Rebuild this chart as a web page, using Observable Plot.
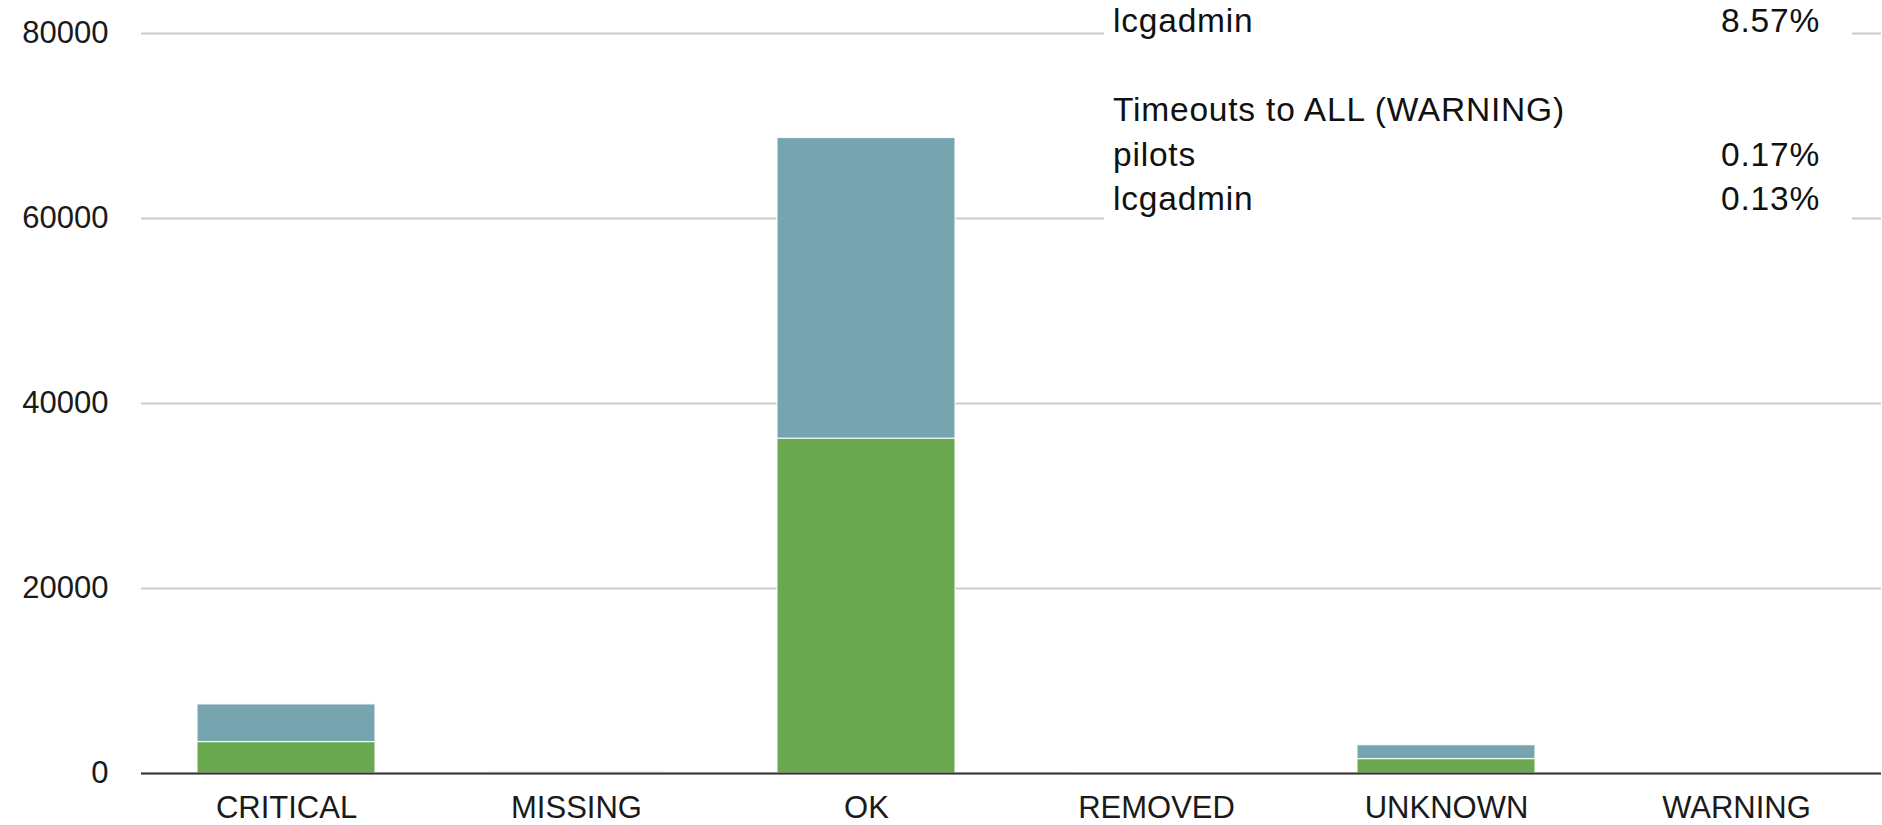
<!DOCTYPE html>
<html>
<head>
<meta charset="utf-8">
<script src="https://cdn.jsdelivr.net/npm/d3@7"></script>
<script src="https://cdn.jsdelivr.net/npm/@observablehq/plot@0.6"></script>
<style>
  html, body { margin: 0; padding: 0; background: #fff; }
  #wrap { position: relative; width: 1882px; height: 825px; overflow: hidden; }
  #tip {
    position: absolute; left: 1104px; top: -1px; width: 748px; height: 236px;
    background: #fff; box-sizing: border-box; padding: 0 32px 0 9px;
    font-family: "Liberation Sans", Arial, Helvetica, sans-serif; font-size: 33.5px;
    letter-spacing: 0.8px; color: #111;
  }
  #tip .row { display: flex; justify-content: space-between; height: 44.5px; line-height: 44.5px; white-space: nowrap; }
</style>
</head>
<body>
<div id="wrap"></div>
<script>
// ---- data ----
const categories = ["CRITICAL", "MISSING", "OK", "REMOVED", "UNKNOWN", "WARNING"];
const seriesNames = ["pilots", "lcgadmin"];
const pilots   = [3400, 100, 36200, 50, 1560, 70];
const lcgadmin = [4070, 120, 32500, 60, 1500, 50];
const yTicks = [0, 20000, 40000, 60000, 80000];
const seriesColors = ["#6aa84f", "#76a5af"];
// tooltip text (partly cut off at the top in the reference)
const tipLabels = ["lcgadmin", "", "Timeouts to ALL (WARNING)", "pilots", "lcgadmin"];
const tipValues = ["8.57%", "", "", "0.17%", "0.13%"];

const rows = categories.flatMap((c, i) => [
  {status: c, series: seriesNames[0], value: pilots[i]},
  {status: c, series: seriesNames[1], value: lcgadmin[i]}
]);

const chart = Plot.plot({
  width: 1882,
  height: 825,
  marginTop: 33,
  marginBottom: 52,
  marginLeft: 141,
  marginRight: 1,
  style: {
    fontFamily: '"Liberation Sans", Arial, Helvetica, sans-serif',
    fontSize: "31px",
    color: "#1a1a1a",
    background: "#fff"
  },
  x: {domain: categories, paddingInner: 0.386, paddingOuter: 0.193, label: null},
  y: {domain: [0, 80000], label: null},
  color: {domain: seriesNames, range: seriesColors},
  marks: [
    Plot.gridY(yTicks, {stroke: "#cccccc", strokeOpacity: 1, strokeWidth: 2}),
    Plot.barY(rows, Plot.stackY({
      x: "status", y: "value", fill: "series", order: seriesNames,
      stroke: "#fff", strokeWidth: 1.2, strokeOpacity: 0.85
    })),
    Plot.ruleY([0], {stroke: "#333", strokeWidth: 2.2}),
    Plot.axisX({tickSize: 0, tickPadding: 22, label: null}),
    Plot.axisY(yTicks, {tickSize: 0, tickPadding: 33, label: null, tickFormat: d => String(d)})
  ]
});

const wrap = document.getElementById("wrap");
wrap.appendChild(chart);

const tip = document.createElement("div");
tip.id = "tip";
tipLabels.forEach((lab, i) => {
  const r = document.createElement("div");
  r.className = "row";
  const a = document.createElement("span"); a.textContent = lab || "\u00a0";
  const b = document.createElement("span"); b.textContent = tipValues[i];
  r.appendChild(a); r.appendChild(b);
  tip.appendChild(r);
});
wrap.appendChild(tip);
</script>
</body>
</html>
